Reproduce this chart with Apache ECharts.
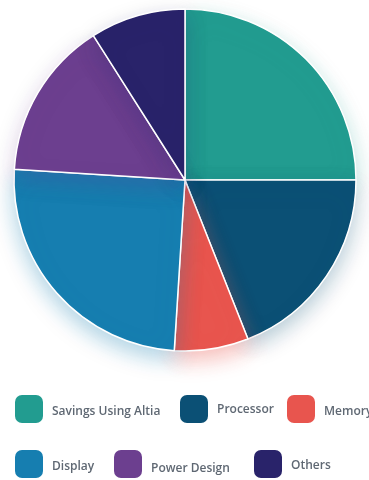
<!DOCTYPE html>
<html><head><meta charset="utf-8">
<script src="https://cdn.jsdelivr.net/npm/echarts@6/dist/echarts.min.js"></script>
<style>html,body{margin:0;padding:0;background:#fff}#c{width:369px;height:480px}</style>
</head><body><div id="c"></div>
<script>
const categories = ['Savings Using Altia','Processor','Memory','Display','Power Design','Others'];
const values = [25, 19, 7, 25, 15, 9];
const colors = ['#229c90','#0b5075','#e8554e','#167eb0','#6c3f8f','#29236a'];
const shadows = ['rgba(34,156,144,0.3)','rgba(11,80,117,0.3)','rgba(232,85,78,0.4)','rgba(22,126,176,0.35)','rgba(108,63,143,0.25)','rgba(41,35,106,0.25)'];
const legendPos = [[15,395],[180,395],[287,395],[15,450],[114,450],[254,450]];
const textShift = [6,2,6,6,10,4];

const chart = echarts.init(document.getElementById('c'), null, {renderer:'canvas'});
const legends = categories.map((name,i)=>({
  data:[name], left:legendPos[i][0], top:legendPos[i][1], padding:0,
  itemWidth:28, itemHeight:28, itemGap:0, icon:'roundRect',
  itemStyle:{borderWidth:0, shadowBlur:0},
  selectedMode:false,
  formatter: n => '{t|' + n + '}',
  textStyle:{
    color:'#5f6873', fontSize:12, fontWeight:600, fontFamily:'Open Sans',
    rich:{t:{color:'#5f6873', fontSize:12, fontWeight:600, fontFamily:'Open Sans', padding:[textShift[i],0,0,4]}}
  }
}));
chart.setOption({
  animation:false,
  color: colors,
  legend: legends,
  series:[{
    type:'pie', center:[185,180], radius:[0,171], startAngle:90, clockwise:true,
    label:{show:false}, labelLine:{show:false},
    itemStyle:{borderColor:'#ffffff', borderWidth:1.5, shadowBlur:22, shadowOffsetY:8},
    data: categories.map((n,i)=>({name:n, value:values[i], itemStyle:{color:colors[i], shadowColor:shadows[i]}}))
  }]
});
</script></body></html>
